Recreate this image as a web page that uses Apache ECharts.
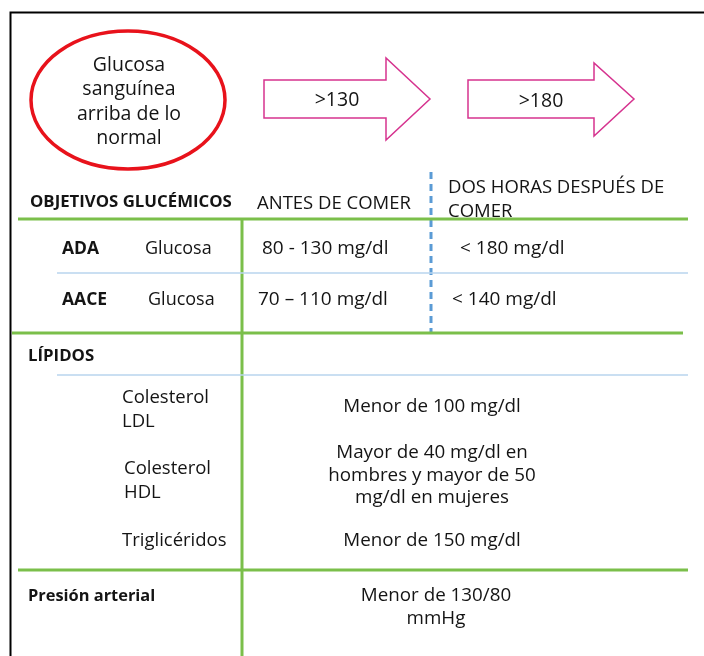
<!DOCTYPE html>
<html><head><meta charset="utf-8">
<script src="https://cdn.jsdelivr.net/npm/echarts@6/dist/echarts.min.js"></script>
<style>html,body{margin:0;padding:0;background:#fff}#c{width:704px;height:656px}</style>
</head><body><div id="c"></div>
<script>
// ---- content ----
const bubbleText = ['Glucosa', 'sanguínea', 'arriba de lo', 'normal'];
const thresholds = ['>130', '>180'];
const headers = ['OBJETIVOS GLUCÉMICOS', 'ANTES DE COMER', ['DOS HORAS DESPUÉS DE', 'COMER']];
const glucoseOrgs = ['ADA', 'AACE'];
const glucoseLabel = ['Glucosa', 'Glucosa'];
const beforeMeal = ['80 - 130 mg/dl', '70 – 110 mg/dl'];
const afterMeal = ['< 180 mg/dl', '< 140 mg/dl'];
const lipidTitle = 'LÍPIDOS';
const lipidNames = [['Colesterol', 'LDL'], ['Colesterol', 'HDL'], ['Triglicéridos']];
const lipidTargets = [['Menor de 100 mg/dl'], ['Mayor de 40 mg/dl en', 'hombres y mayor de 50', 'mg/dl en mujeres'], ['Menor de 150 mg/dl']];
const bpTitle = 'Presión arterial';
const bpTarget = ['Menor de 130/80', 'mmHg'];

// ---- rendering ----
const FONT = '"Open Sans"';
const TXT = '#141414';
const GREEN = '#7bbf4a';
const LBLUE = '#b8d4ee';
const DBLUE = '#5b9bd5';
const PINK = '#d6338f';
const DY = 1;
const g = [];
function txt(x, y, s, opt) {
  opt = opt || {};
  g.push({type: 'text', x: x, y: y + DY, style: {
    text: s, fill: TXT, font: (opt.bold ? 'bold ' : '') + (opt.size || 17) + 'px ' + FONT,
    textAlign: opt.align || 'left', textVerticalAlign: 'middle'}});
}
function lines(x, y0, arr, lh, opt) { arr.forEach((s, i) => txt(x, y0 + i * lh, s, opt)); }
function hline(x1, x2, y, color, w) { g.push({type: 'line', shape: {x1, y1: y, x2, y2: y}, style: {stroke: color, lineWidth: w}}); }
function vline(x, y1, y2, color, w, dash) { g.push({type: 'line', shape: {x1: x, y1, x2: x, y2}, style: {stroke: color, lineWidth: w, lineDash: dash || null}}); }
function arrow(x0, xb, xt, yTop, yBot, hTop, hBot) {
  const ym = (yTop + yBot) / 2;
  g.push({type: 'polygon', shape: {points: [[x0, yTop], [xb, yTop], [xb, hTop], [xt, ym], [xb, hBot], [xb, yBot], [x0, yBot]]},
    style: {fill: '#fff', stroke: PINK, lineWidth: 1.5}});
}

// outer frame
g.push({type: 'rect', shape: {x: 10.5, y: 12.5, width: 700, height: 660}, style: {fill: 'none', stroke: '#000', lineWidth: 2}});

// bubble
g.push({type: 'ellipse', shape: {cx: 128, cy: 100, rx: 97, ry: 69}, style: {fill: '#fff', stroke: '#e8121b', lineWidth: 3.5}});
lines(129, 64, bubbleText, 24.5, {align: 'center', size: 19.5});

// arrows
arrow(264, 386, 430, 80, 118, 58, 140);
txt(337, 99, thresholds[0], {size: 19.5, align: 'center'});
arrow(468, 594, 634, 80, 118, 63, 136);
txt(541, 100, thresholds[1], {size: 19.5, align: 'center'});

// lines of the table
vline(431, 172, 333, DBLUE, 3, [7, 5]);
hline(18, 688, 219, GREEN, 3);
vline(242, 219, 660, GREEN, 3);
hline(57, 688, 273, LBLUE, 1.5);
hline(12, 683, 333, GREEN, 3);
hline(57, 688, 375, LBLUE, 1.5);
hline(18, 688, 570, GREEN, 3);

// header
txt(30, 201, headers[0], {bold: true, size: 16.8});
txt(257, 203, headers[1], {size: 18.5});
lines(448, 187, headers[2], 24, {size: 18.5});

// glucose rows
const rowY = [248, 299];
const orgX = [145, 148], befX = [262, 258], aftX = [460, 452];
glucoseOrgs.forEach((o, i) => {
  txt(62, rowY[i], o, {bold: true, size: 17.5});
  txt(orgX[i], rowY[i], glucoseLabel[i], {size: 18});
  txt(befX[i], rowY[i], beforeMeal[i], {size: 19});
  txt(aftX[i], rowY[i], afterMeal[i], {size: 19});
});

// lipids
txt(28, 355, lipidTitle, {bold: true, size: 16.8});
const nameX = [122, 124, 122], nameY = [397, 468, 540];
const tgtY = [406, 452, 540];
lipidNames.forEach((n, i) => {
  lines(nameX[i], nameY[i], n, 24, {size: 18.5});
  lines(432, tgtY[i], lipidTargets[i], 22.5, {size: 18.8, align: 'center'});
});

// blood pressure
txt(28, 595, bpTitle, {bold: true, size: 16.4});
lines(436, 595, bpTarget, 23, {size: 18.8, align: 'center'});

const chart = echarts.init(document.getElementById('c'), null, {renderer: 'canvas'});
chart.setOption({animation: false, backgroundColor: '#fff', graphic: {elements: g}});
</script></body></html>
